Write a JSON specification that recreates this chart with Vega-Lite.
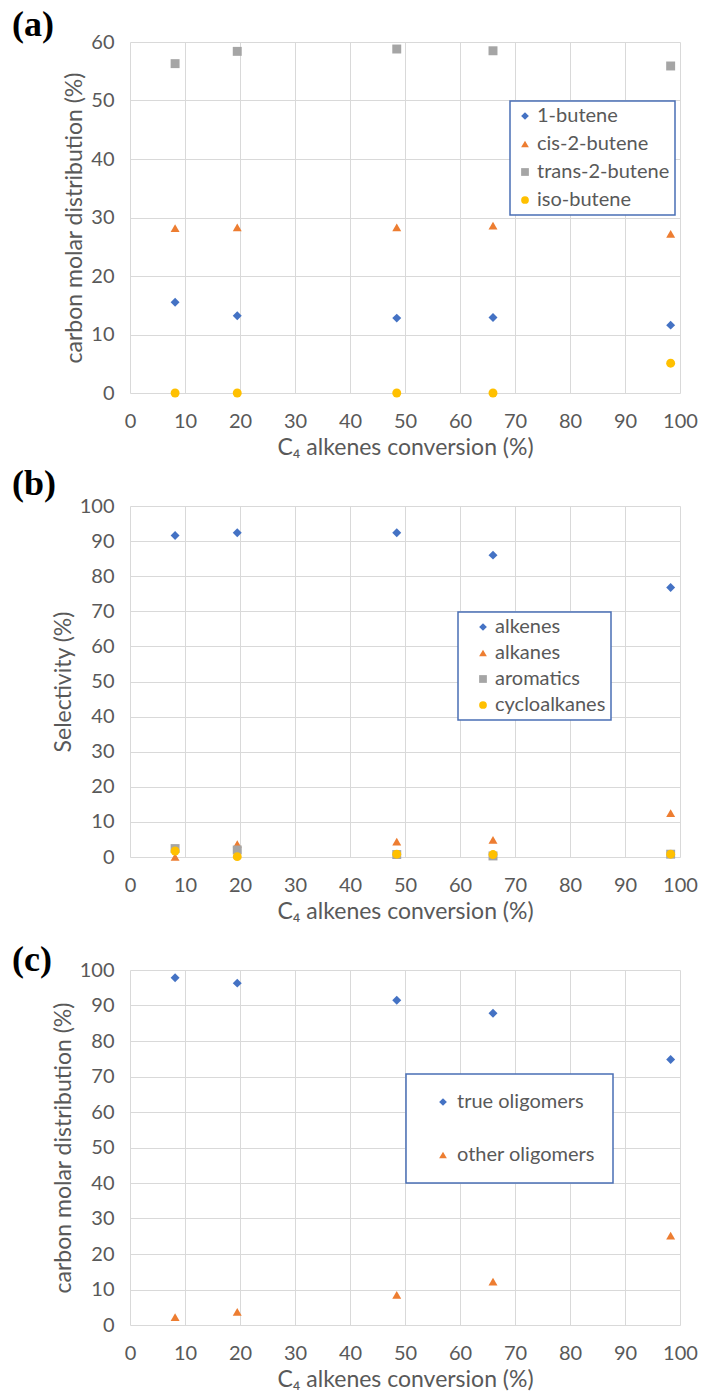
{
  "$schema": "https://vega.github.io/schema/vega-lite/v6.json",
  "padding": {"left": 12, "top": 7, "right": 5, "bottom": 0},
  "spacing": 113,
  "bounds": "flush",
  "background": "white",
  "datasets": {
    "a": [
      {"series": "1-butene", "x": 8.2, "y": 15.5},
      {"series": "1-butene", "x": 19.5, "y": 13.2},
      {"series": "1-butene", "x": 48.5, "y": 12.8},
      {"series": "1-butene", "x": 66, "y": 12.9},
      {"series": "1-butene", "x": 98.3, "y": 11.6},
      {"series": "cis-2-butene", "x": 8.2, "y": 28.2},
      {"series": "cis-2-butene", "x": 19.5, "y": 28.3},
      {"series": "cis-2-butene", "x": 48.5, "y": 28.3},
      {"series": "cis-2-butene", "x": 66, "y": 28.6},
      {"series": "cis-2-butene", "x": 98.3, "y": 27.2},
      {"series": "trans-2-butene", "x": 8.2, "y": 56.3},
      {"series": "trans-2-butene", "x": 19.5, "y": 58.4},
      {"series": "trans-2-butene", "x": 48.5, "y": 58.8},
      {"series": "trans-2-butene", "x": 66, "y": 58.5},
      {"series": "trans-2-butene", "x": 98.3, "y": 55.9},
      {"series": "iso-butene", "x": 8.2, "y": 0},
      {"series": "iso-butene", "x": 19.5, "y": 0},
      {"series": "iso-butene", "x": 48.5, "y": 0},
      {"series": "iso-butene", "x": 66, "y": 0},
      {"series": "iso-butene", "x": 98.3, "y": 5.1}
    ],
    "b": [
      {"series": "alkenes", "x": 8.2, "y": 91.6},
      {"series": "alkenes", "x": 19.5, "y": 92.4},
      {"series": "alkenes", "x": 48.5, "y": 92.4},
      {"series": "alkenes", "x": 66, "y": 86.0},
      {"series": "alkenes", "x": 98.3, "y": 76.8},
      {"series": "alkanes", "x": 8.2, "y": 0},
      {"series": "alkanes", "x": 19.5, "y": 3.7},
      {"series": "alkanes", "x": 48.5, "y": 4.4},
      {"series": "alkanes", "x": 66, "y": 4.9},
      {"series": "alkanes", "x": 98.3, "y": 12.5},
      {"series": "aromatics", "x": 8.2, "y": 2.4},
      {"series": "aromatics", "x": 19.5, "y": 2.0},
      {"series": "aromatics", "x": 48.5, "y": 0.7},
      {"series": "aromatics", "x": 66, "y": 0.3},
      {"series": "aromatics", "x": 98.3, "y": 0.8},
      {"series": "cycloalkanes", "x": 8.2, "y": 1.7},
      {"series": "cycloalkanes", "x": 19.5, "y": 0.1},
      {"series": "cycloalkanes", "x": 48.5, "y": 0.8},
      {"series": "cycloalkanes", "x": 66, "y": 0.7},
      {"series": "cycloalkanes", "x": 98.3, "y": 0.8}
    ],
    "c": [
      {"series": "true oligomers", "x": 8.2, "y": 97.8},
      {"series": "true oligomers", "x": 19.5, "y": 96.3},
      {"series": "true oligomers", "x": 48.5, "y": 91.5},
      {"series": "true oligomers", "x": 66, "y": 87.8},
      {"series": "true oligomers", "x": 98.3, "y": 74.8},
      {"series": "other oligomers", "x": 8.2, "y": 2.2},
      {"series": "other oligomers", "x": 19.5, "y": 3.7},
      {"series": "other oligomers", "x": 48.5, "y": 8.5},
      {"series": "other oligomers", "x": 66, "y": 12.2},
      {"series": "other oligomers", "x": 98.3, "y": 25.2}
    ]
  },
  "vconcat": [
    {
      "width": 550,
      "height": 351,
      "title": {"text": "(a)", "anchor": "start", "frame": "group", "dx": -118, "offset": -12, "font": "Liberation Serif", "fontSize": 36, "fontWeight": "bold", "color": "#000000"},
      "data": {"name": "a"},
      "mark": {"type": "point", "filled": true, "size": 80, "opacity": 1},
      "encoding": {
        "x": {"field": "x", "type": "quantitative", "scale": {"domain": [0, 100], "nice": false}, "axis": {"values": [0,10,20,30,40,50,60,70,80,90,100], "title": "C₄ alkenes conversion (%)"}},
        "y": {"field": "y", "type": "quantitative", "scale": {"domain": [0, 60], "nice": false}, "axis": {"values": [0,10,20,30,40,50,60], "title": "carbon molar distribution (%)"}},
        "color": {"field": "series", "type": "nominal", "sort": null, "scale": {"domain": ["1-butene", "cis-2-butene", "trans-2-butene", "iso-butene"], "range": ["#4472C4", "#ED7D31", "#A5A5A5", "#FFC000"]},
          "legend": {"orient": "none", "legendX": 380, "legendY": 59, "padding": 5, "symbolOffset": 0, "labelOffset": 2, "rowPadding": 8}},
        "shape": {"field": "series", "type": "nominal", "sort": null, "scale": {"domain": ["1-butene", "cis-2-butene", "trans-2-butene", "iso-butene"], "range": ["diamond", "triangle-up", "square", "circle"]},
          "legend": {"orient": "none", "legendX": 380, "legendY": 59, "padding": 5, "symbolOffset": 0, "labelOffset": 2, "rowPadding": 8}}
      }
    },
    {
      "width": 550,
      "height": 351,
      "title": {"text": "(b)", "anchor": "start", "frame": "group", "dx": -118, "offset": -7, "font": "Liberation Serif", "fontSize": 36, "fontWeight": "bold", "color": "#000000"},
      "data": {"name": "b"},
      "mark": {"type": "point", "filled": true, "size": 80, "opacity": 1},
      "encoding": {
        "x": {"field": "x", "type": "quantitative", "scale": {"domain": [0, 100], "nice": false}, "axis": {"values": [0,10,20,30,40,50,60,70,80,90,100], "title": "C₄ alkenes conversion (%)"}},
        "y": {"field": "y", "type": "quantitative", "scale": {"domain": [0, 100], "nice": false}, "axis": {"values": [0,10,20,30,40,50,60,70,80,90,100], "title": "Selectivity (%)"}},
        "color": {"field": "series", "type": "nominal", "sort": null, "scale": {"domain": ["alkenes", "alkanes", "aromatics", "cycloalkanes"], "range": ["#4472C4", "#ED7D31", "#A5A5A5", "#FFC000"]},
          "legend": {"orient": "none", "legendX": 328, "legendY": 106, "padding": 5, "symbolOffset": 10, "labelOffset": 2, "rowPadding": 6}},
        "shape": {"field": "series", "type": "nominal", "sort": null, "scale": {"domain": ["alkenes", "alkanes", "aromatics", "cycloalkanes"], "range": ["diamond", "triangle-up", "square", "circle"]},
          "legend": {"orient": "none", "legendX": 328, "legendY": 106, "padding": 5, "symbolOffset": 10, "labelOffset": 2, "rowPadding": 6}}
      }
    },
    {
      "width": 550,
      "height": 355,
      "title": {"text": "(c)", "anchor": "start", "frame": "group", "dx": -118, "offset": -19, "font": "Liberation Serif", "fontSize": 36, "fontWeight": "bold", "color": "#000000"},
      "data": {"name": "c"},
      "mark": {"type": "point", "filled": true, "size": 80, "opacity": 1},
      "encoding": {
        "x": {"field": "x", "type": "quantitative", "scale": {"domain": [0, 100], "nice": false}, "axis": {"values": [0,10,20,30,40,50,60,70,80,90,100], "title": "C₄ alkenes conversion (%)"}},
        "y": {"field": "y", "type": "quantitative", "scale": {"domain": [0, 100], "nice": false}, "axis": {"values": [0,10,20,30,40,50,60,70,80,90,100], "title": "carbon molar distribution (%)"}},
        "color": {"field": "series", "type": "nominal", "sort": null, "scale": {"domain": ["true oligomers", "other oligomers"], "range": ["#4472C4", "#ED7D31"]},
          "legend": {"orient": "none", "legendX": 276, "legendY": 104, "padding": 18, "symbolOffset": 9, "labelOffset": 4, "rowPadding": 33}},
        "shape": {"field": "series", "type": "nominal", "sort": null, "scale": {"domain": ["true oligomers", "other oligomers"], "range": ["diamond", "triangle-up"]},
          "legend": {"orient": "none", "legendX": 276, "legendY": 104, "padding": 18, "symbolOffset": 9, "labelOffset": 4, "rowPadding": 33}}
      }
    }
  ],
  "resolve": {"scale": {"color": "independent", "shape": "independent"}, "legend": {"color": "independent", "shape": "independent"}},
  "config": {
    "font": "Lato",
    "view": {"stroke": null},
    "axis": {
      "labelFont": "Lato", "labelFontSize": 20, "labelColor": "#595959",
      "titleFont": "Lato", "titleFontSize": 23, "titleFontWeight": "normal", "titleColor": "#595959",
      "grid": true, "gridColor": "#d9d9d9", "gridWidth": 1,
      "ticks": false, "domain": false, "labelPadding": 16, "titlePadding": 4,
      "labelFlush": false, "labelOverlap": false
    },
    "axisX": {"labelPadding": 18, "titlePadding": 5},
    "legend": {
      "title": null, "labelFont": "Lato", "labelFontSize": 20, "labelColor": "#595959",
      "symbolSize": 60, "symbolStrokeWidth": 0,
      "strokeColor": "#4A6FB5", "fillColor": "#ffffff", "strokeWidth": 1.5, "cornerRadius": 0
    },
    "point": {"strokeWidth": 0}
  }
}
